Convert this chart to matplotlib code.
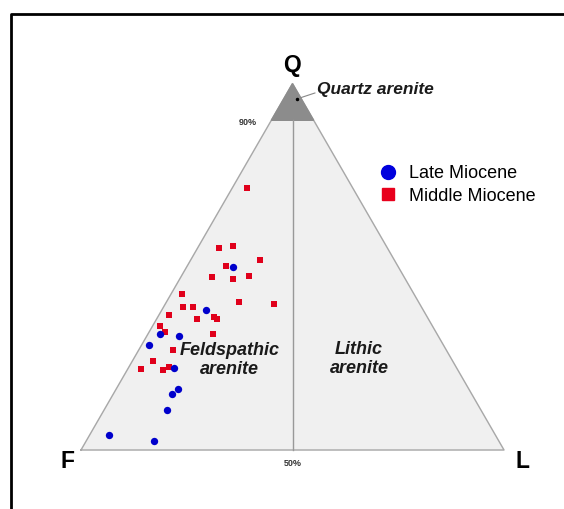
import matplotlib.pyplot as plt
import numpy as np
from matplotlib.lines import Line2D

plt.rcParams['font.family'] = ['Liberation Sans', 'DejaVu Sans']

# ternary compositions in percent (Q, F, L)
late_q = [49.9, 38.2, 31.7, 31.2, 28.7, 22.4, 16.6, 15.3, 11.0, 4.1, 2.5]
late_f = [39.1, 51.3, 65.5, 61.2, 69.6, 66.8, 68.8, 70.8, 74.2, 91.3, 81.5]
late_l = [11.0, 10.5, 2.8, 7.6, 1.7, 10.8, 14.6, 13.9, 14.8, 4.6, 16.0]

mid_q = [71.4, 55.1, 55.6, 52.0, 50.2, 47.1, 46.7, 47.5, 42.7, 39.0, 39.0, 40.3, 39.8,
         36.9, 35.7, 36.4, 35.8, 33.9, 32.3, 31.7, 27.3, 24.3, 22.1, 21.8, 22.7]
mid_f = [25.1, 39.8, 36.3, 31.6, 40.7, 45.5, 40.6, 36.5, 54.8, 56.3, 54.0, 42.4, 34.4,
         60.7, 54.7, 50.4, 49.9, 64.3, 64.0, 52.9, 64.7, 70.8, 74.7, 69.8, 67.8]
mid_l = [3.5, 5.1, 8.1, 16.4, 9.1, 7.4, 12.7, 16.0, 2.5, 4.7, 7.0, 17.3, 25.8,
         2.4, 9.6, 13.2, 14.3, 1.8, 3.7, 15.4, 8.0, 4.9, 3.2, 8.4, 9.5]


def tern(q, f, l):
    q = np.asarray(q, float); f = np.asarray(f, float); l = np.asarray(l, float)
    s = q + f + l
    q, l = q / s, l / s
    return l + q / 2, q * np.sqrt(3) / 2


fig = plt.figure(figsize=(5.64, 5.09), dpi=100)
ax = fig.add_axes([0, 0, 1, 1])
ax.set_xlim(-81 / 423, 483 / 423)
ax.set_ylim(-59 / 423, 450 / 423)
ax.axis('off')

# outer frame (left and top only visible)
fig.add_artist(Line2D([10.5 / 564, 10.5 / 564, 1], [0, 1 - 13.5 / 509, 1 - 13.5 / 509],
                      color='black', lw=2, transform=fig.transFigure))

# triangle
tx, ty = tern([0, 0, 100, 0], [100, 0, 0, 100], [0, 100, 0, 0])
ax.fill(tx, ty, color='#f0f0f0', zorder=1)
ax.plot(tx, ty, color='#a8a8a8', lw=1, zorder=2)

# quartz arenite field
qx, qy = tern([90, 90, 100], [10, 0, 0], [0, 10, 0])
ax.fill(qx, qy, color='#8c8c8c', zorder=2)

# 50% F/L line
lx, ly = tern([90, 0], [5, 50], [5, 50])
ax.plot(lx, ly, color='#999999', lw=1, zorder=2)

# data
bx, by = tern(late_q, late_f, late_l)
rx, ry = tern(mid_q, mid_f, mid_l)
ax.scatter(rx, ry, marker='s', s=22, color='#e0001b', zorder=4, label='Middle Miocene', linewidths=0)
ax.scatter(bx, by, marker='o', s=28, color='#0000cc', zorder=5, label='Late Miocene', linewidths=0)

h = [Line2D([], [], marker='o', ls='', color='#0000dd', ms=10),
     Line2D([], [], marker='s', ls='', color='#e8001c', ms=8)]
ax.legend(h, ['Late Miocene', 'Middle Miocene'], loc='upper left',
          bbox_to_anchor=(377 / 564, 1 - 165 / 509), frameon=False,
          fontsize=13, handletextpad=0.58, labelspacing=0.32, handlelength=1.2,
          borderpad=0, borderaxespad=0)

# labels
ax.text(0.4988, 0.910, 'Q', fontsize=16.5, fontweight='bold', ha='center', va='center')
ax.text(-0.033, -0.028, 'F', fontsize=16.5, fontweight='bold', ha='center', va='center')
ax.text(1.0426, -0.028, 'L', fontsize=16.5, fontweight='bold', ha='center', va='center')
ax.text(0.501, -0.031, '50%', fontsize=6.5, fontweight='bold', color='#333333', ha='center', va='center')
ax.text(0.395, 0.775, '90%', fontsize=6.5, fontweight='bold', color='#333333', ha='center', va='center')

ax.text(0.558, 0.853, 'Quartz arenite', fontsize=12.5, fontweight='bold', style='italic', ha='left', va='center', color='#1a1a1a')
ax.plot([0.5106, 0.553], [0.830, 0.844], color='#888888', lw=0.8, zorder=3)
ax.plot([0.5106], [0.830], marker='o', ms=1.5, color='black', zorder=3)

ax.text(0.352, 0.2125, 'Feldspathic\narenite', fontsize=13, fontweight='bold', style='italic',
        ha='center', va='center', linespacing=1.15, color='#1a1a1a', zorder=6)
ax.text(0.657, 0.215, 'Lithic\narenite', fontsize=13, fontweight='bold', style='italic',
        ha='center', va='center', linespacing=1.15, color='#1a1a1a', zorder=6)

fig.savefig('out.png', dpi=100)
